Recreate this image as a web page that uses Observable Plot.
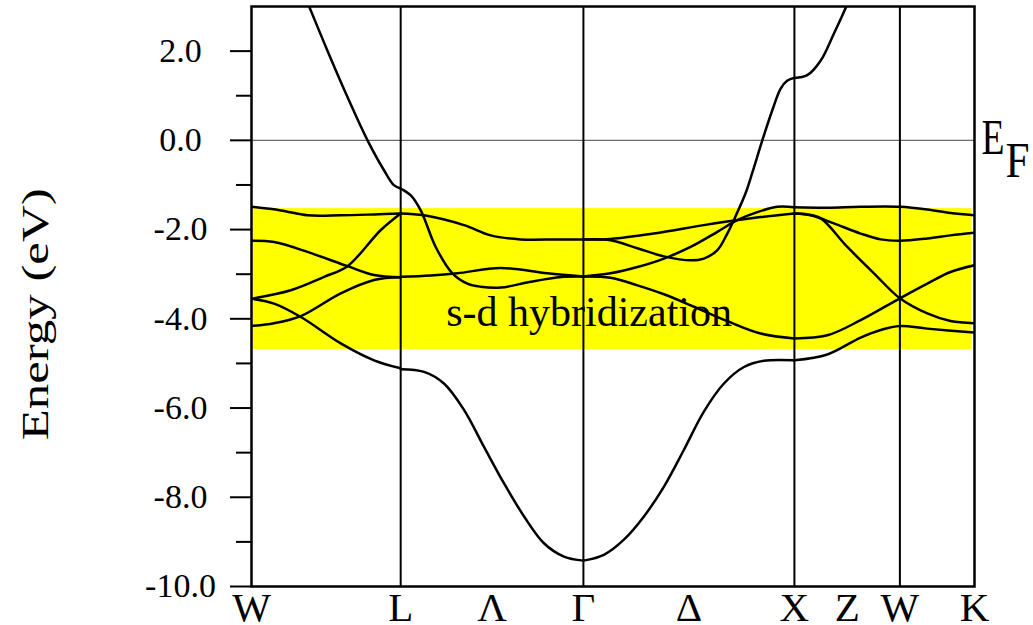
<!DOCTYPE html>
<html>
<head>
<meta charset="utf-8">
<script src="https://cdn.jsdelivr.net/npm/d3@7"></script>
<script src="https://cdn.jsdelivr.net/npm/@observablehq/plot@0.6"></script>
<style>
  html, body { margin: 0; padding: 0; background: #fff; }
</style>
</head>
<body>
<div id="chart"></div>
<script>
// Path through the fcc Brillouin zone: W – L – Γ – X – W – K (k in units of 2π/a)
const symK = [0, 0.7071, 1.5731, 2.5731, 3.0731, 3.4267];
const pathLabels = ["W", "L", "Λ", "Γ", "Δ", "X", "Z", "W", "K"];
const pathLabelK = [0, 0.7071, 1.1401, 1.5731, 2.0731, 2.5731, 2.8231, 3.0731, 3.4267];

// Energy axis (eV, relative to the Fermi level)
const energyTicks = [-10, -8, -6, -4, -2, 0, 2];
const energyMinorTicks = [-9, -7, -5, -3, -1, 1];

// s-d hybridization window
const sdK = [0.01, 3.415];
const sdE = [-4.69, -1.53];
const sdNote = {text: "s-d hybridization", k: 1.600, e: -4.15};

// Bands, segment by segment, as [k, E] pairs
// W → L
const wlS = [[0.253, 3.23], [0.281, 2.91], [0.360, 2.01], [0.455, 0.97], [0.550, 0.0], [0.628, -0.67], [0.676, -1.01], [0.7071, -1.08]];
const wl1 = [[0, -1.49], [0.139, -1.57], [0.265, -1.68], [0.423, -1.68], [0.581, -1.66], [0.7071, -1.64]];
const wl2 = [[0, -2.25], [0.107, -2.28], [0.265, -2.50], [0.455, -2.82], [0.581, -3.02], [0.7071, -3.07]];
const wl3 = [[0, -3.55], [0.186, -3.36], [0.344, -3.06], [0.455, -2.82], [0.613, -2.01], [0.7071, -1.64]];
const wl4 = [[0, -3.55], [0.107, -3.66], [0.234, -3.96], [0.423, -4.55], [0.581, -4.93], [0.7071, -5.11]];
const wl5 = [[0, -4.16], [0.107, -4.10], [0.234, -3.94], [0.423, -3.43], [0.581, -3.13], [0.7071, -3.07]];
// L → Γ (Λ)
const lgS = [[0.7071, -1.08], [0.754, -1.23], [0.802, -1.57], [0.873, -2.39], [0.952, -2.98], [1.023, -3.21], [1.086, -3.28], [1.181, -3.30], [1.323, -3.17], [1.481, -3.06], [1.5731, -3.05]];
const lgU = [[0.7071, -1.64], [0.818, -1.68], [1.007, -1.90], [1.134, -2.13], [1.276, -2.22], [1.45, -2.22], [1.5731, -2.22]];
const lgL = [[0.7071, -3.06], [0.85, -3.03], [0.976, -2.98], [1.181, -2.86], [1.402, -2.98], [1.5731, -3.05]];
const lgB = [[0.7071, -5.13], [0.818, -5.19], [0.912, -5.45], [1.007, -6.04], [1.102, -6.87], [1.197, -7.69], [1.292, -8.43], [1.386, -9.03], [1.481, -9.33], [1.5731, -9.42]];
// Γ → X (Δ)
const gxB = [[1.5731, -9.42], [1.670, -9.29], [1.765, -8.95], [1.860, -8.43], [1.955, -7.76], [2.049, -6.94], [2.144, -6.08], [2.239, -5.45], [2.334, -5.08], [2.428, -4.94], [2.5731, -4.93]];
const gxA = [[1.5731, -2.22], [1.702, -2.21], [1.907, -2.09], [2.144, -1.90], [2.271, -1.81], [2.413, -1.72], [2.5731, -1.64]];
const gxS = [[1.5731, -2.22], [1.702, -2.24], [1.829, -2.42], [1.955, -2.60], [2.081, -2.69], [2.144, -2.65], [2.208, -2.46], [2.255, -2.09], [2.302, -1.62], [2.342, -1.18], [2.374, -0.72], [2.421, 0.0], [2.468, 0.67], [2.508, 1.16], [2.540, 1.34], [2.5731, 1.40]];
const gxC = [[1.5731, -3.05], [1.702, -2.98], [1.829, -2.84], [1.955, -2.65], [2.081, -2.39], [2.208, -2.05], [2.302, -1.79], [2.397, -1.61], [2.492, -1.49], [2.5731, -1.50]];
const gxD = [[1.5731, -3.05], [1.702, -3.08], [1.829, -3.25], [1.955, -3.45], [2.097, -3.73], [2.255, -4.05], [2.413, -4.33], [2.5731, -4.44]];
// X → W → K (Z, then W–K)
const xwS = [[2.5731, 1.40], [2.634, 1.46], [2.698, 1.79], [2.760, 2.39], [2.819, 3.0], [2.840, 3.25]];
const xw1 = [[2.5731, -1.50], [2.729, -1.51], [2.887, -1.49], [3.0731, -1.49], [3.203, -1.55], [3.313, -1.63], [3.4267, -1.68]];
const xw2 = [[2.5731, -1.64], [2.651, -1.68], [2.760, -1.86], [2.887, -2.09], [2.982, -2.22], [3.0731, -2.25], [3.203, -2.20], [3.313, -2.13], [3.4267, -2.07]];
const xw3 = [[2.5731, -1.64], [2.634, -1.66], [2.698, -1.75], [2.824, -2.39], [2.950, -2.98], [3.0731, -3.54], [3.203, -3.88], [3.313, -4.05], [3.4267, -4.10]];
const xw4 = [[2.5731, -4.44], [2.729, -4.37], [2.887, -4.03], [3.0731, -3.54], [3.203, -3.21], [3.313, -2.95], [3.4267, -2.80]];
const xw5 = [[2.5731, -4.93], [2.729, -4.80], [2.887, -4.42], [2.982, -4.25], [3.0731, -4.16], [3.203, -4.22], [3.4267, -4.31]];

const bands = [wlS, wl1, wl2, wl3, wl4, wl5, lgS, lgU, lgL, lgB, gxB, gxA, gxS, gxC, gxD, xwS, xw1, xw2, xw3, xw4, xw5];
const bandPoints = bands.flatMap((b, i) => b.map(([k, e]) => ({k, e, band: i})));

const serif = "'Liberation Serif', 'Times New Roman', Times, serif";

const chart = Plot.plot({
  width: 1033,
  height: 625,
  marginLeft: 251,
  marginRight: 59,
  marginTop: 6,
  marginBottom: 39,
  style: {fontFamily: serif, background: "#fff", color: "#000"},
  x: {domain: [0, symK[symK.length - 1]], axis: null},
  y: {domain: [-10, 3], axis: null},
  marks: [
    Plot.rect([0], {x1: () => sdK[0], x2: () => sdK[1], y1: () => sdE[0], y2: () => sdE[1], fill: "#ffff00"}),
    Plot.ruleY([0], {stroke: "#6a6a6a", strokeWidth: 1.3}),
    Plot.ruleX(symK.slice(1, -1), {stroke: "#000", strokeWidth: 2}),
    Plot.line(bandPoints, {x: "k", y: "e", z: "band", curve: "catmull-rom", stroke: "#000", strokeWidth: 2.5, clip: true}),
    Plot.text([sdNote], {x: "k", y: "e", text: "text", fontSize: 42, lineAnchor: "bottom", fill: "#000"}),
    // y ticks and labels
    Plot.axisY(energyTicks, {anchor: "left", tickSize: 21, strokeWidth: 2, tickFormat: () => "", label: null}),
    Plot.axisY(energyMinorTicks, {anchor: "left", tickSize: 15, strokeWidth: 2, tickFormat: () => "", label: null}),
    Plot.axisY(energyTicks, {anchor: "left", tickSize: 0, tickPadding: 71, textAnchor: "middle", fontSize: 34, tickFormat: (d) => d.toFixed(1), label: null}),
    // k-path labels
    Plot.text(pathLabels, {x: (d, i) => pathLabelK[i], text: (d) => d, frameAnchor: "bottom", lineAnchor: "top", dy: 5, fontSize: 41}),
    // Fermi level label (E with subscript F)
    Plot.text(["E"], {x: () => symK[symK.length - 1], y: () => 0, text: (d) => d, textAnchor: "start", lineAnchor: "bottom", dx: 7, dy: 14, fontSize: 50, className: "ef-main"}),
    Plot.text(["F"], {x: () => symK[symK.length - 1], y: () => 0, text: (d) => d, textAnchor: "start", lineAnchor: "bottom", dx: 31, dy: 37, fontSize: 50, className: "ef-sub"}),
    // y axis title
    Plot.text(["Energy (eV)"], {y: () => -3.9, text: (d) => d, frameAnchor: "left", rotate: -90, textAnchor: "middle", lineAnchor: "bottom", dx: -204, fontSize: 38, className: "ylabel"}),
    Plot.frame({stroke: "#000", strokeWidth: 2.5})
  ]
});

document.getElementById("chart").appendChild(chart);
// stretch the axis title along its baseline; narrow the E_F glyphs
d3.select(chart).selectAll(".ylabel text").attr("textLength", 252).attr("lengthAdjust", "spacingAndGlyphs");
d3.select(chart).selectAll(".ef-main text").attr("textLength", 23).attr("lengthAdjust", "spacingAndGlyphs");
d3.select(chart).selectAll(".ef-sub text").attr("textLength", 24).attr("lengthAdjust", "spacingAndGlyphs");
</script>
</body>
</html>
